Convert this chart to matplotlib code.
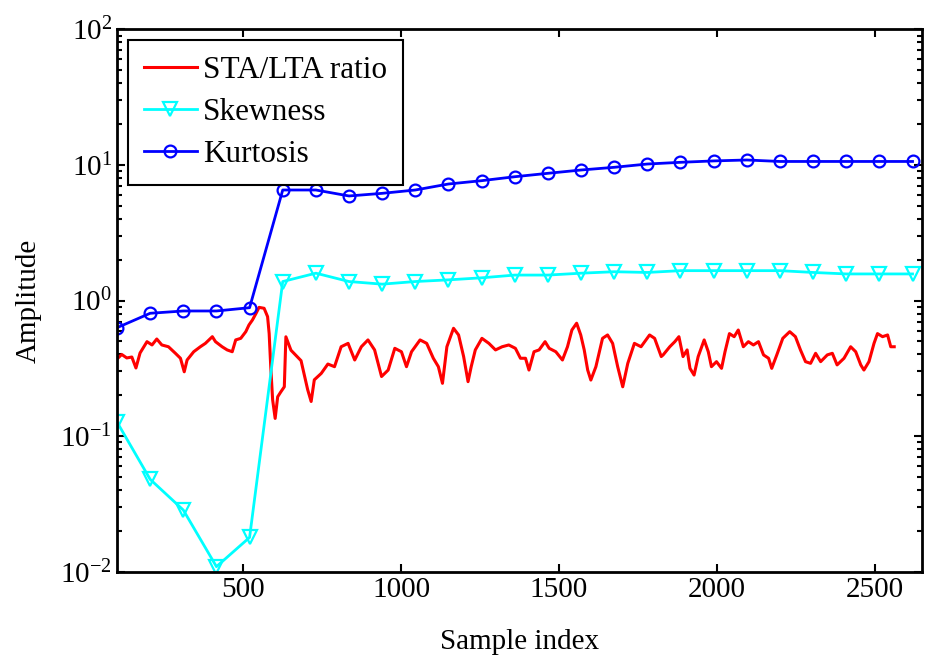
import matplotlib
matplotlib.use("Agg")
import matplotlib.pyplot as plt

plt.rcParams['font.family'] = ['Liberation Serif', 'DejaVu Serif']
plt.rcParams['mathtext.fontset'] = 'custom'
plt.rcParams['mathtext.rm'] = 'Liberation Serif'
plt.rcParams['mathtext.it'] = 'Liberation Serif:italic'
plt.rcParams['mathtext.bf'] = 'Liberation Serif:bold'

# Window positions (sample index) for skewness / kurtosis
win_x = [100, 205, 310, 415, 520, 625, 730, 835, 940, 1045, 1150, 1255, 1360,
         1465, 1570, 1675, 1780, 1885, 1990, 2095, 2200, 2305, 2410, 2515, 2620]
skewness = [0.127, 0.048, 0.0285, 0.0109, 0.0179, 1.38, 1.59, 1.38, 1.32, 1.38,
            1.42, 1.47, 1.54, 1.54, 1.59, 1.63, 1.61, 1.66, 1.66, 1.66, 1.66,
            1.61, 1.57, 1.57, 1.57]
kurtosis = [0.63, 0.805, 0.837, 0.837, 0.885, 6.53, 6.53, 5.9, 6.17, 6.53,
            7.23, 7.65, 8.18, 8.67, 9.17, 9.6, 10.15, 10.45, 10.7, 10.87, 10.6,
            10.6, 10.6, 10.6, 10.6]

# STA/LTA ratio trace
sta_x = [100, 115, 131, 147, 160, 173, 195, 211, 226, 242, 263, 285, 301, 313,
         322, 343, 364, 380, 402, 412, 433, 449, 465, 476, 492, 508, 518, 529,
         540, 550, 566, 577, 582, 587, 593, 601, 609, 619, 630, 635, 651, 683,
         704, 715, 725, 747, 768, 789, 810, 832, 853, 874, 895, 916, 938, 959,
         980, 1001, 1017, 1033, 1060, 1081, 1102, 1118, 1131, 1145, 1166, 1182,
         1198, 1212, 1222, 1235, 1256, 1278, 1299, 1320, 1341, 1362, 1378, 1394,
         1405, 1421, 1437, 1456, 1469, 1490, 1511, 1527, 1541, 1556, 1569, 1580,
         1591, 1601, 1617, 1638, 1654, 1670, 1686, 1702, 1718, 1739, 1760, 1787,
         1803, 1824, 1830, 1851, 1867, 1880, 1893, 1906, 1915, 1928, 1941, 1960,
         1973, 1983, 1999, 2015, 2026, 2040, 2055, 2068, 2084, 2100, 2116, 2132,
         2148, 2164, 2174, 2190, 2209, 2231, 2249, 2265, 2281, 2297, 2313, 2329,
         2350, 2366, 2381, 2403, 2424, 2440, 2456, 2466, 2482, 2498, 2509, 2525,
         2541, 2551, 2562]
sta_lta = [0.37, 0.40, 0.377, 0.383, 0.318, 0.41, 0.497, 0.47, 0.52, 0.47,
           0.456, 0.408, 0.375, 0.298, 0.364, 0.419, 0.456, 0.483, 0.541, 0.497,
           0.456, 0.432, 0.419, 0.512, 0.526, 0.589, 0.66, 0.718, 0.80, 0.89,
           0.876, 0.76, 0.57, 0.325, 0.185, 0.135, 0.195, 0.212, 0.231, 0.54,
           0.43, 0.36, 0.22, 0.18, 0.26, 0.29, 0.34, 0.325, 0.456, 0.483, 0.364,
           0.456, 0.512, 0.432, 0.275, 0.307, 0.444, 0.419, 0.325, 0.419, 0.512,
           0.483, 0.375, 0.325, 0.245, 0.456, 0.624, 0.557, 0.386, 0.252, 0.325,
           0.432, 0.526, 0.483, 0.432, 0.456, 0.47, 0.444, 0.375, 0.375, 0.307,
           0.419, 0.432, 0.497, 0.444, 0.419, 0.364, 0.456, 0.606, 0.68, 0.557,
           0.432, 0.307, 0.259, 0.325, 0.526, 0.557, 0.483, 0.325, 0.231, 0.344,
           0.483, 0.456, 0.557, 0.526, 0.386, 0.397, 0.456, 0.497, 0.541, 0.386,
           0.432, 0.316, 0.282, 0.386, 0.512, 0.419, 0.325, 0.354, 0.316, 0.419,
           0.57, 0.541, 0.606, 0.456, 0.497, 0.47, 0.497, 0.397, 0.375, 0.316,
           0.397, 0.526, 0.589, 0.541, 0.432, 0.354, 0.344, 0.408, 0.354, 0.397,
           0.408, 0.335, 0.375, 0.456, 0.419, 0.335, 0.307, 0.354, 0.483, 0.57,
           0.541, 0.557, 0.456, 0.456]

x_ticks = [500, 1000, 1500, 2000, 2500]

fig = plt.figure(figsize=(9.28, 6.64), dpi=100)
ax = fig.add_axes([117 / 928, 1 - 571.7 / 664, 805 / 928, 542.4 / 664])

ax.plot(sta_x, sta_lta, color='#ff0000', lw=2.2, label='STA/LTA ratio')
ax.plot(win_x, skewness, color='#00ffff', lw=2.0, marker='v', ms=9.5,
        mfc='none', mec='#00ffff', mew=1.6, label='Skewness')
ax.plot(win_x, kurtosis, color='#0000ff', lw=2.0, marker='o', ms=8.5,
        mfc='none', mec='#0000ff', mew=1.6, label='Kurtosis')

ax.set_yscale('log')
ax.set_ylim(1e-2, 1e2)
ax.set_xlim(100, 2650)
ax.set_xticks(x_ticks)

for s in ax.spines.values():
    s.set_linewidth(2.0)
ax.tick_params(which='both', direction='in', top=True, right=True,
               width=1.5, labelsize=21)
ax.tick_params(which='major', length=6)
ax.tick_params(which='minor', length=3.5)

ax.set_xlabel('Sample index', fontsize=21, labelpad=19)
ax.set_ylabel('Amplitude', fontsize=21, labelpad=13)

leg = ax.legend(loc='upper left', bbox_to_anchor=(11 / 805, 1 - 10.7 / 542.4),
                borderaxespad=0, fontsize=22.5, handlelength=1.7,
                handletextpad=0.2, labelspacing=0.42, fancybox=False,
                framealpha=1, edgecolor='black', borderpad=0.5)
leg.get_frame().set_linewidth(1.5)

fig.savefig('out.png', dpi=100)
